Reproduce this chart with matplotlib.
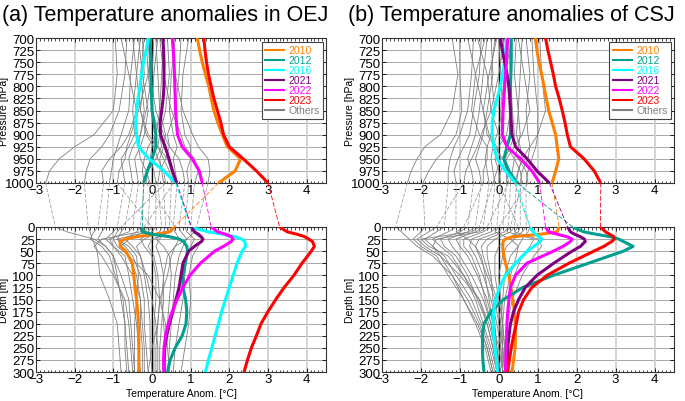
import matplotlib
matplotlib.use("Agg")
import matplotlib.pyplot as plt
from matplotlib.patches import ConnectionPatch
from matplotlib.ticker import MultipleLocator
from matplotlib.lines import Line2D

plt.rcParams['font.family'] = ['Liberation Sans', 'DejaVu Sans']

# ---------------- data ----------------
YEARS = ['2010', '2012', '2016', '2021', '2022', '2023']
COLORS = ['#ff7f00', '#009e8f', '#00ffff', '#800080', '#ff00ff', '#ff0000']

P_LEV = [700, 725, 750, 775, 800, 825, 850, 875, 900, 925, 950, 975, 1000]
Z_LEV = [0, 10, 15, 20, 25, 30, 40, 50, 75, 100, 125, 150, 175, 200, 225, 250, 275, 300]
P_LEV_O = [700, 775, 850, 900, 925, 950, 975, 1000]
Z_LEV_O = [0, 10, 25, 40, 60, 100, 150, 200, 250, 300]

# (a) OEJ highlighted years
A_ATM = {
    '2010': [1.17, 1.23, 1.30, 1.38, 1.47, 1.53, 1.60, 1.70, 1.82, 1.95, 2.29, 2.15, 1.72],
    '2012': [-0.05, -0.04, -0.03, -0.03, -0.02, -0.01, 0.0, 0.05, 0.1, 0.1, 0.0, -0.12, -0.22],
    '2016': [-0.09, -0.15, -0.22, -0.27, -0.31, -0.36, -0.40, -0.42, -0.40, -0.35, -0.08, 0.31, 0.61],
    '2021': [0.28, 0.30, 0.31, 0.31, 0.31, 0.29, 0.25, 0.21, 0.22, 0.34, 0.44, 0.53, 0.64],
    '2022': [0.53, 0.55, 0.57, 0.58, 0.59, 0.60, 0.61, 0.63, 0.66, 0.78, 1.04, 1.22, 1.30],
    '2023': [1.34, 1.37, 1.41, 1.46, 1.53, 1.60, 1.69, 1.78, 1.85, 2.0, 2.36, 2.70, 3.0],
}
A_OCN = {
    '2010': [0.57, 0.45, 0.1, -0.4, -0.7, -0.83, -0.82, -0.68, -0.51, -0.47, -0.44, -0.40, -0.37, -0.35, -0.34, -0.34, -0.34, -0.34],
    '2012': [-0.25, -0.25, 0.0, 0.45, 0.7, 0.82, 0.9, 0.92, 0.86, 0.8, 0.8, 0.87, 0.9, 0.88, 0.78, 0.6, 0.47, 0.4],
    '2016': [1.0, 1.45, 1.85, 2.15, 2.32, 2.4, 2.42, 2.33, 2.2, 2.1, 2.0, 1.9, 1.8, 1.72, 1.63, 1.55, 1.46, 1.38],
    '2021': [1.02, 1.1, 1.2, 1.27, 1.32, 1.28, 1.1, 0.95, 0.8, 0.75, 0.7, 0.62, 0.54, 0.45, 0.38, 0.33, 0.31, 0.31],
    '2022': [1.53, 1.7, 1.9, 2.05, 2.1, 2.05, 1.85, 1.62, 1.25, 0.98, 0.8, 0.65, 0.52, 0.42, 0.35, 0.31, 0.30, 0.31],
    '2023': [3.3, 3.5, 3.75, 3.95, 4.05, 4.15, 4.2, 4.12, 3.88, 3.67, 3.42, 3.2, 3.0, 2.82, 2.7, 2.57, 2.47, 2.38],
}
# (b) CSJ highlighted years
B_ATM = {
    '2010': [0.94, 0.98, 1.03, 1.10, 1.16, 1.22, 1.28, 1.37, 1.46, 1.5, 1.54, 1.46, 1.37],
    '2012': [0.32, 0.32, 0.32, 0.31, 0.30, 0.30, 0.30, 0.30, 0.30, 0.21, 0.13, 0.26, 0.47],
    '2016': [0.2, 0.18, 0.15, 0.09, 0.04, -0.04, -0.13, -0.17, -0.17, -0.13, -0.04, 0.17, 0.43],
    '2021': [0.04, 0.09, 0.15, 0.21, 0.26, 0.28, 0.30, 0.32, 0.34, 0.43, 0.73, 0.98, 1.3],
    '2022': [0.23, 0.21, 0.20, 0.17, 0.15, 0.13, 0.11, 0.10, 0.09, 0.21, 0.56, 0.85, 1.05],
    '2023': [1.2, 1.26, 1.33, 1.40, 1.46, 1.55, 1.63, 1.70, 1.76, 1.84, 2.19, 2.45, 2.62],
}
B_OCN = {
    '2010': [1.55, 1.5, 1.07, 0.38, 0.17, 0.11, 0.1, 0.11, 0.17, 0.26, 0.31, 0.36, 0.4, 0.42, 0.43, 0.42, 0.38, 0.34],
    '2012': [1.9, 2.18, 2.5, 2.86, 3.08, 3.2, 3.45, 3.2, 2.3, 1.4, 0.62, 0.12, -0.2, -0.38, -0.42, -0.42, -0.41, -0.38],
    '2016': [0.81, 0.88, 0.95, 1.03, 1.1, 1.06, 0.9, 0.73, 0.43, 0.17, 0.02, -0.08, -0.13, -0.15, -0.13, -0.1, -0.06, -0.03],
    '2021': [1.77, 1.84, 1.95, 2.09, 2.2, 2.22, 2.1, 1.88, 1.41, 0.98, 0.68, 0.51, 0.38, 0.30, 0.26, 0.23, 0.22, 0.21],
    '2022': [1.2, 1.28, 1.5, 1.75, 1.88, 1.84, 1.65, 1.4, 0.72, 0.43, 0.30, 0.26, 0.23, 0.21, 0.2, 0.19, 0.18, 0.17],
    '2023': [2.61, 2.74, 2.85, 2.95, 2.97, 2.9, 2.7, 2.44, 1.8, 1.24, 0.85, 0.64, 0.51, 0.45, 0.38, 0.32, 0.27, 0.23],
}

# Others (gray)
A_ATM_OTH = [
    [-0.95, -0.9, -1.0, -1.5, -2.0, -2.4, -2.65, -2.75],
    [-0.65, -0.7, -0.85, -1.1, -1.3, -1.6, -1.7, -1.75],
    [-0.45, -0.55, -0.6, -0.8, -0.9, -1.0, -1.05, -1.1],
    [-0.3, -0.4, -0.5, -0.45, -0.6, -0.8, -0.75, -0.7],
    [-0.2, -0.3, -0.2, -0.3, -0.5, -0.6, -0.55, -0.5],
    [-0.35, -0.25, -0.1, -0.2, -0.3, -0.45, -0.4, -0.35],
    [-0.15, -0.1, 0.0, 0.1, -0.1, -0.2, -0.25, -0.2],
    [0.05, 0.0, -0.15, -0.3, -0.35, -0.3, -0.15, -0.05],
    [0.1, 0.15, 0.2, 0.1, 0.0, -0.05, 0.05, 0.1],
    [-0.1, -0.05, 0.1, 0.3, 0.45, 0.35, 0.2, 0.15],
    [0.3, 0.25, 0.2, 0.35, 0.3, 0.2, 0.25, 0.3],
    [0.4, 0.45, 0.35, 0.2, 0.15, 0.3, 0.45, 0.5],
    [0.6, 0.5, 0.45, 0.55, 0.65, 0.55, 0.6, 0.65],
    [0.75, 0.7, 0.6, 0.4, 0.45, 0.7, 0.8, 0.85],
    [0.95, 0.8, 0.75, 0.85, 1.0, 1.0, 0.9, 0.95],
    [0.2, 0.3, 0.5, 0.75, 0.85, 1.1, 1.2, 1.1],
    [0.5, 0.6, 0.8, 1.05, 1.2, 1.45, 1.5, 1.45],
    [-0.5, -0.4, -0.3, -0.1, 0.15, 0.4, 0.5, 0.55],
    [-0.8, -0.6, -0.4, -0.6, -0.8, -1.1, -1.3, -1.25],
    [0.0, -0.1, -0.35, -0.55, -0.65, -0.7, -0.85, -0.9],
    [0.15, 0.05, 0.0, 0.2, 0.25, 0.1, -0.1, -0.15],
    [-0.25, -0.2, -0.3, -0.15, 0.05, 0.15, 0.3, 0.35],
]
A_OCN_OTH = [
    [-2.5, -2.2, -1.5, -1.2, -1.0, -0.9, -0.8, -0.7, -0.65, -0.6],
    [-1.65, -1.6, -1.55, -1.45, -1.4, -1.35, -1.1, -0.9, -0.85, -0.8],
    [-1.2, -1.3, -1.4, -1.2, -1.0, -0.8, -0.6, -0.55, -0.5, -0.45],
    [-0.9, -1.0, -1.2, -1.0, -0.7, -0.6, -0.5, -0.4, -0.35, -0.3],
    [-0.7, -0.8, -0.9, -0.7, -0.5, -0.3, -0.2, -0.2, -0.15, -0.1],
    [-0.5, -0.6, -1.1, -1.0, -0.8, -0.5, -0.3, -0.25, -0.2, -0.2],
    [-0.3, -0.4, -0.7, -0.5, -0.3, -0.2, -0.1, -0.05, -0.05, 0.0],
    [-0.1, -0.2, -0.6, -0.8, -0.6, -0.4, -0.3, -0.3, -0.25, -0.25],
    [0.1, 0.0, -0.3, -0.2, 0.0, 0.1, 0.1, 0.05, 0.05, 0.05],
    [0.25, 0.2, -0.2, -0.4, -0.3, -0.15, 0.0, 0.1, 0.15, 0.15],
    [0.35, 0.3, 0.2, 0.1, 0.2, 0.3, 0.3, 0.25, 0.2, 0.2],
    [0.45, 0.4, 0.1, 0.3, 0.45, 0.5, 0.45, 0.4, 0.35, 0.3],
    [0.55, 0.6, 0.7, 0.6, 0.5, 0.4, 0.2, 0.15, 0.1, 0.1],
    [0.7, 0.75, 0.9, 0.8, 0.7, 0.6, 0.55, 0.5, 0.45, 0.4],
    [0.85, 0.9, 1.1, 1.0, 0.9, 0.85, 0.8, 0.7, 0.6, 0.55],
    [1.0, 1.05, 1.3, 1.2, 1.05, 0.95, 1.0, 0.95, 0.85, 0.75],
    [1.15, 1.1, 0.9, 0.6, 0.4, 0.3, 0.25, 0.3, 0.35, 0.35],
    [-0.2, -0.3, -1.3, -1.5, -1.3, -1.0, -0.7, -0.6, -0.55, -0.5],
    [-1.4, -1.5, -1.6, -1.3, -1.1, -0.95, -0.75, -0.7, -0.7, -0.65],
    [0.0, -0.1, -0.9, -0.6, -0.4, -0.35, -0.4, -0.45, -0.45, -0.45],
    [0.6, 0.5, 0.0, -0.1, 0.05, 0.15, 0.2, 0.15, 0.0, -0.1],
    [-0.8, -0.9, -1.0, -0.9, -0.6, -0.1, 0.2, 0.35, 0.4, 0.45],
]
B_ATM_OTH = [
    [-1.2, -1.05, -1.2, -1.5, -1.9, -2.1, -2.25, -2.35],
    [-1.0, -1.0, -0.95, -1.1, -1.3, -1.6, -1.8, -1.95],
    [-0.65, -0.7, -0.8, -1.0, -1.15, -1.25, -1.3, -1.3],
    [-0.45, -0.5, -0.65, -0.75, -0.9, -1.05, -1.15, -1.1],
    [-0.3, -0.4, -0.5, -0.6, -0.7, -0.8, -0.7, -0.65],
    [-0.2, -0.15, -0.3, -0.4, -0.5, -0.6, -0.5, -0.45],
    [-0.1, -0.2, -0.1, -0.2, -0.3, -0.35, -0.3, -0.25],
    [0.0, 0.05, 0.1, -0.05, -0.15, -0.2, -0.15, -0.1],
    [0.1, 0.2, 0.3, 0.2, 0.0, -0.1, 0.0, 0.05],
    [0.25, 0.3, 0.35, 0.4, 0.3, 0.15, 0.2, 0.2],
    [0.45, 0.4, 0.5, 0.55, 0.5, 0.4, 0.35, 0.3],
    [0.6, 0.55, 0.5, 0.45, 0.55, 0.6, 0.5, 0.45],
    [0.7, 0.8, 0.7, 0.75, 0.8, 0.75, 0.6, 0.55],
    [0.85, 0.9, 1.0, 1.0, 0.95, 0.85, 0.75, 0.7],
    [1.05, 1.1, 1.2, 1.0, 0.8, 0.6, 0.5, 0.4],
    [-0.8, -0.6, -0.4, -0.3, -0.1, 0.1, 0.2, 0.25],
    [-0.55, -0.3, -0.2, 0.0, 0.2, 0.4, 0.55, 0.6],
    [0.15, 0.0, -0.2, -0.45, -0.55, -0.7, -0.85, -0.9],
    [0.35, 0.15, 0.05, 0.1, 0.25, 0.5, 0.7, 0.75],
    [-0.35, -0.6, -0.7, -0.5, -0.3, -0.3, -0.4, -0.4],
    [0.5, 0.65, 0.8, 0.6, 0.4, 0.2, 0.05, 0.0],
    [-0.05, -0.25, -0.4, -0.25, -0.05, 0.05, -0.05, -0.15],
]
B_OCN_OTH = [
    [-2.65, -2.5, -2.3, -2.1, -1.7, -1.2, -0.8, -0.5, -0.3, -0.15],
    [-1.9, -2.0, -2.2, -2.0, -1.6, -1.3, -0.9, -0.6, -0.35, -0.2],
    [-1.4, -1.6, -1.9, -1.7, -1.4, -1.1, -0.7, -0.45, -0.25, -0.1],
    [-1.1, -1.3, -1.7, -1.5, -1.2, -0.9, -0.6, -0.4, -0.2, -0.05],
    [-0.8, -1.0, -1.5, -1.4, -1.1, -0.8, -0.55, -0.3, -0.15, 0.0],
    [-0.6, -0.8, -1.3, -1.2, -1.0, -0.7, -0.4, -0.2, -0.1, 0.05],
    [-0.4, -0.6, -1.1, -1.0, -0.8, -0.55, -0.3, -0.15, 0.0, 0.1],
    [-0.2, -0.4, -0.9, -0.9, -0.7, -0.5, -0.35, -0.2, -0.1, -0.05],
    [-0.05, -0.2, -0.7, -0.75, -0.6, -0.4, -0.2, -0.05, 0.05, 0.1],
    [0.1, 0.0, -0.5, -0.6, -0.5, -0.3, -0.1, 0.0, 0.1, 0.15],
    [0.25, 0.15, -0.3, -0.45, -0.4, -0.25, -0.05, 0.05, 0.1, 0.15],
    [0.4, 0.3, -0.1, -0.3, -0.3, -0.2, -0.15, -0.1, -0.05, 0.0],
    [0.55, 0.5, 0.2, 0.0, -0.1, -0.1, 0.0, 0.1, 0.15, 0.2],
    [0.7, 0.6, 0.4, 0.2, 0.1, 0.0, 0.05, 0.1, 0.15, 0.2],
    [0.8, 0.75, 0.6, 0.5, 0.3, 0.15, 0.1, 0.05, 0.05, 0.1],
    [-0.3, -0.5, -1.6, -1.7, -1.5, -1.2, -0.9, -0.55, -0.3, -0.15],
    [0.3, 0.2, 0.9, 0.8, 0.6, 0.4, 0.25, 0.2, 0.2, 0.25],
    [-1.6, -1.8, -2.1, -1.9, -1.5, -1.0, -0.5, -0.25, -0.1, 0.0],
    [0.0, -0.1, 0.3, 0.5, 0.45, 0.3, 0.15, 0.1, 0.1, 0.1],
    [-0.9, -1.1, -0.8, -0.6, -0.45, -0.35, -0.25, -0.15, -0.05, 0.05],
    [0.5, 0.4, 1.0, 1.1, 0.9, 0.6, 0.35, 0.2, 0.15, 0.15],
    [-0.5, -0.7, -2.0, -1.8, -1.3, -0.9, -0.5, -0.3, -0.15, -0.05],
]

TITLES = ['(a) Temperature anomalies in OEJ', '(b) Temperature anomalies of CSJ']
P_TICKS = list(range(700, 1001, 25))
Z_TICKS = list(range(0, 301, 25))
X_TICKS = [-3, -2, -1, 0, 1, 2, 3, 4]

# ---------------- figure ----------------
W, H = 685, 402
fig = plt.figure(figsize=(W / 100, H / 100), dpi=100)

def px_axes(x0, x1, ytop, ybot):
    return fig.add_axes([x0 / W, 1 - ybot / H, (x1 - x0) / W, (ybot - ytop) / H])

GRAY = '#808080'

def style(ax, ylim, yticks, ylabel, label_x, xlabel=None):
    ax.set_xlim(-3, 4.5)
    ax.set_ylim(ylim)
    ax.set_yticks(yticks)
    ax.set_xticks(X_TICKS)
    ax.set_xticklabels([str(v).replace('-', '\u2212') for v in X_TICKS])
    ax.xaxis.set_minor_locator(MultipleLocator(0.1))
    ax.tick_params(axis='both', which='major', direction='in', top=True, right=True,
                   length=3, width=0.6, labelsize=9.5, pad=1)
    ax.tick_params(axis='x', which='minor', direction='in', top=True, bottom=True, length=1.8, width=0.5)
    ax.set_axisbelow(True)
    for y in yticks:
        ax.axhline(y, color='#9a9a9a', lw=0.6, zorder=0)
    for x in X_TICKS:
        ax.axvline(x, color='#d0d0d0', lw=1.3, zorder=0)
    ax.axvline(0, color='black', lw=0.9, zorder=1.5)
    for sp in ax.spines.values():
        sp.set_linewidth(0.8)
        sp.set_color('#333333')
    ax.set_ylabel(ylabel, fontsize=7.5)
    ax.yaxis.set_label_coords(label_x, 0.5)
    if xlabel:
        ax.set_xlabel(xlabel, fontsize=7.5, labelpad=2)

panels = [
    (36, 326, A_ATM, A_OCN, A_ATM_OTH, A_OCN_OTH, 2),
    (382, 674, B_ATM, B_OCN, B_ATM_OTH, B_OCN_OTH, 348),
]

for i, (x0, x1, atm, ocn, atm_o, ocn_o, tx) in enumerate(panels):
    ax_t = px_axes(x0, x1, 39, 184)
    ax_b = px_axes(x0, x1, 228, 373)
    lx = (x0 - 27 - x0 + 0) / (x1 - x0)
    lx = -27.0 / (x1 - x0)
    style(ax_t, (1000, 700), P_TICKS, 'Pressure [hPa]', lx)
    style(ax_b, (300, 0), Z_TICKS, 'Depth [m]', lx, 'Temperature Anom. [\u00b0C]')
    fig.text(tx / W, 1 - 15 / H, TITLES[i], fontsize=15.5, ha='left', va='center')

    # others
    for a_vals, o_vals in zip(atm_o, ocn_o):
        ax_t.plot(a_vals, P_LEV_O, color=GRAY, lw=0.6, zorder=2)
        ax_b.plot(o_vals, Z_LEV_O, color=GRAY, lw=0.6, zorder=2)
        con = ConnectionPatch(xyA=(a_vals[-1], P_LEV_O[-1]), coordsA=ax_t.transData,
                              xyB=(o_vals[0], Z_LEV_O[0]), coordsB=ax_b.transData,
                              color='#909090', lw=0.5, linestyle=(0, (5, 3)))
        fig.add_artist(con)
    # highlighted years
    for yr, c in zip(YEARS, COLORS):
        ax_t.plot(atm[yr], P_LEV, color=c, lw=2.2, zorder=3, solid_capstyle='butt')
        ax_b.plot(ocn[yr], Z_LEV, color=c, lw=2.2, zorder=3, solid_capstyle='butt')
        con = ConnectionPatch(xyA=(atm[yr][-1], P_LEV[-1]), coordsA=ax_t.transData,
                              xyB=(ocn[yr][0], Z_LEV[0]), coordsB=ax_b.transData,
                              color=c, lw=0.6, linestyle=(0, (5, 3)))
        fig.add_artist(con)

    handles = [Line2D([], [], color=c, lw=1.5) for c in COLORS] + [Line2D([], [], color=GRAY, lw=1.5)]
    labels = YEARS + ['Others']
    leg = ax_t.legend(handles, labels, loc='upper right', bbox_to_anchor=(0.99, 0.97),
                      fontsize=7.5, labelspacing=0.0, handlelength=1.9, handletextpad=0.4,
                      borderpad=0.3, borderaxespad=0.0, fancybox=False, framealpha=1,
                      edgecolor='#444444')
    leg.get_frame().set_linewidth(0.8)
    for t, c in zip(leg.get_texts(), COLORS + [GRAY]):
        t.set_color(c)
    leg.set_zorder(10)

fig.savefig('out.png', dpi=100)
